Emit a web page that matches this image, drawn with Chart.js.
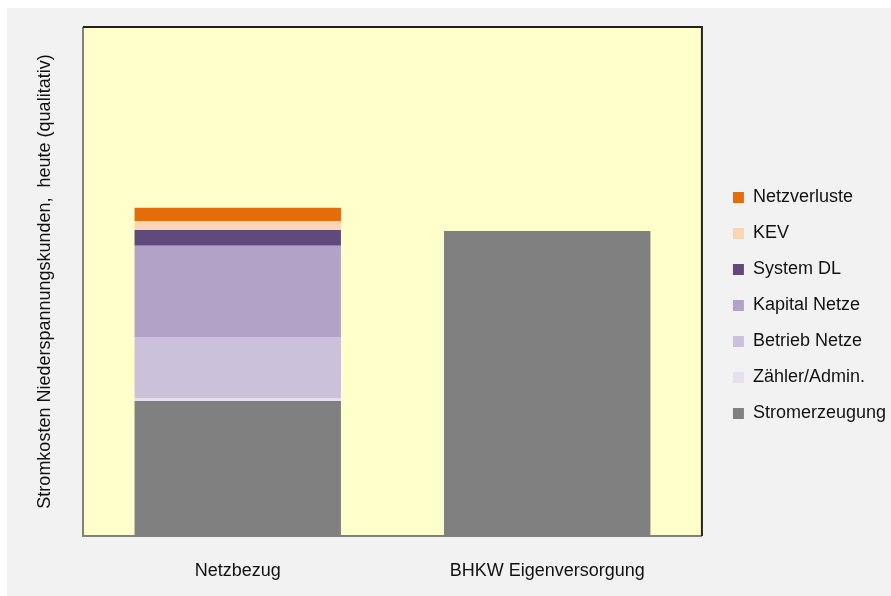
<!DOCTYPE html>
<html>
<head>
<meta charset="utf-8">
<script src="https://cdn.jsdelivr.net/npm/chart.js@4/dist/chart.umd.min.js"></script>
<style>
  body { margin: 0; background: #ffffff; }
  #wrap { position: absolute; left: 7px; top: 8px; width: 884px; height: 588px; background: #f2f2f2; }
</style>
</head>
<body>
<div id="wrap"><canvas id="costChart" width="884" height="588"></canvas></div>
<script>
// categories
var categories = ['Netzbezug', 'BHKW Eigenversorgung']

// series values (qualitative, 0..100 of the axis)
var stromerzeugung = [26.5, 59.9]
var zaehlerAdmin = [0.6, 0]
var betriebNetze = [12.0, 0]
var kapitalNetze = [17.9, 0]
var systemDL = [3.1, 0]
var kev = [1.8, 0]
var netzverluste = [2.6, 0]

var yTitle = 'Stromkosten Niederspannungskunden,  heute (qualitativ)'

// yellow plot area with its frame
var plotBackground = {
  id: 'plotBackground',
  afterLayout: function (chart) {
    // nudge the legend a bit right and up
    var lg = chart.legend
    if (lg) {
      lg.left += 13
      lg.right += 13
      lg.top -= 6
      lg.bottom -= 6
    }
  },
  beforeDatasetsDraw: function (chart) {
    var a = chart.chartArea
    var ctx = chart.ctx
    ctx.save()
    ctx.fillStyle = '#ffffcc'
    ctx.fillRect(a.left, a.top, a.right - a.left, a.bottom - a.top)
    ctx.restore()
  },
  afterDatasetsDraw: function (chart) {
    var a = chart.chartArea
    var ctx = chart.ctx
    ctx.save()
    ctx.lineWidth = 2
    ctx.strokeStyle = '#808080'
    ctx.beginPath()
    ctx.moveTo(a.left, a.top)
    ctx.lineTo(a.left, a.bottom)
    ctx.lineTo(a.right, a.bottom)
    ctx.stroke()
    ctx.strokeStyle = '#222222'
    ctx.beginPath()
    ctx.moveTo(a.left, a.top)
    ctx.lineTo(a.right, a.top)
    ctx.lineTo(a.right, a.bottom)
    ctx.stroke()
    ctx.restore()
  }
}

function series(label, data, color) {
  return {
    label: label,
    data: data,
    backgroundColor: color,
    borderWidth: 0,
    categoryPercentage: 1.0,
    barPercentage: 0.667
  }
}

var ctx = document.getElementById('costChart').getContext('2d')
var chart = new Chart(ctx, {
  type: 'bar',
  data: {
    labels: categories,
    datasets: [
      series('Stromerzeugung', stromerzeugung, '#808080'),
      series('Zähler/Admin.', zaehlerAdmin, '#e6e0ec'),
      series('Betrieb Netze', betriebNetze, '#ccc1da'),
      series('Kapital Netze', kapitalNetze, '#b3a2c7'),
      series('System DL', systemDL, '#604a7b'),
      series('KEV', kev, '#fcd5b5'),
      series('Netzverluste', netzverluste, '#e46c0a')
    ]
  },
  options: {
    responsive: false,
    animation: false,
    devicePixelRatio: 1,
    layout: { padding: { left: 0, right: 8, top: 19, bottom: 0 } },
    plugins: {
      tooltip: { enabled: false },
      legend: {
        position: 'right',
        reverse: true,
        labels: {
          boxWidth: 11,
          boxHeight: 11,
          padding: 18,
          color: '#111111',
          font: { family: "'Liberation Sans', Arial, sans-serif", size: 18 }
        }
      }
    },
    scales: {
      x: {
        stacked: true,
        grid: { display: false, drawTicks: false },
        border: { display: false },
        ticks: {
          padding: 24,
          color: '#111111',
          font: { family: "'Liberation Sans', Arial, sans-serif", size: 18 }
        },
        afterFit: function (scale) { scale.height = 60 }
      },
      y: {
        stacked: true,
        min: 0,
        max: 100,
        grid: { display: false, drawTicks: false },
        border: { display: false },
        ticks: { display: false },
        title: {
          display: true,
          text: yTitle,
          color: '#111111',
          padding: { top: 27, bottom: 0 },
          font: { family: "'Liberation Sans', Arial, sans-serif", size: 18 }
        },
        afterFit: function (scale) { scale.width = 76 }
      }
    }
  },
  plugins: [plotBackground]
})
</script>
</body>
</html>
